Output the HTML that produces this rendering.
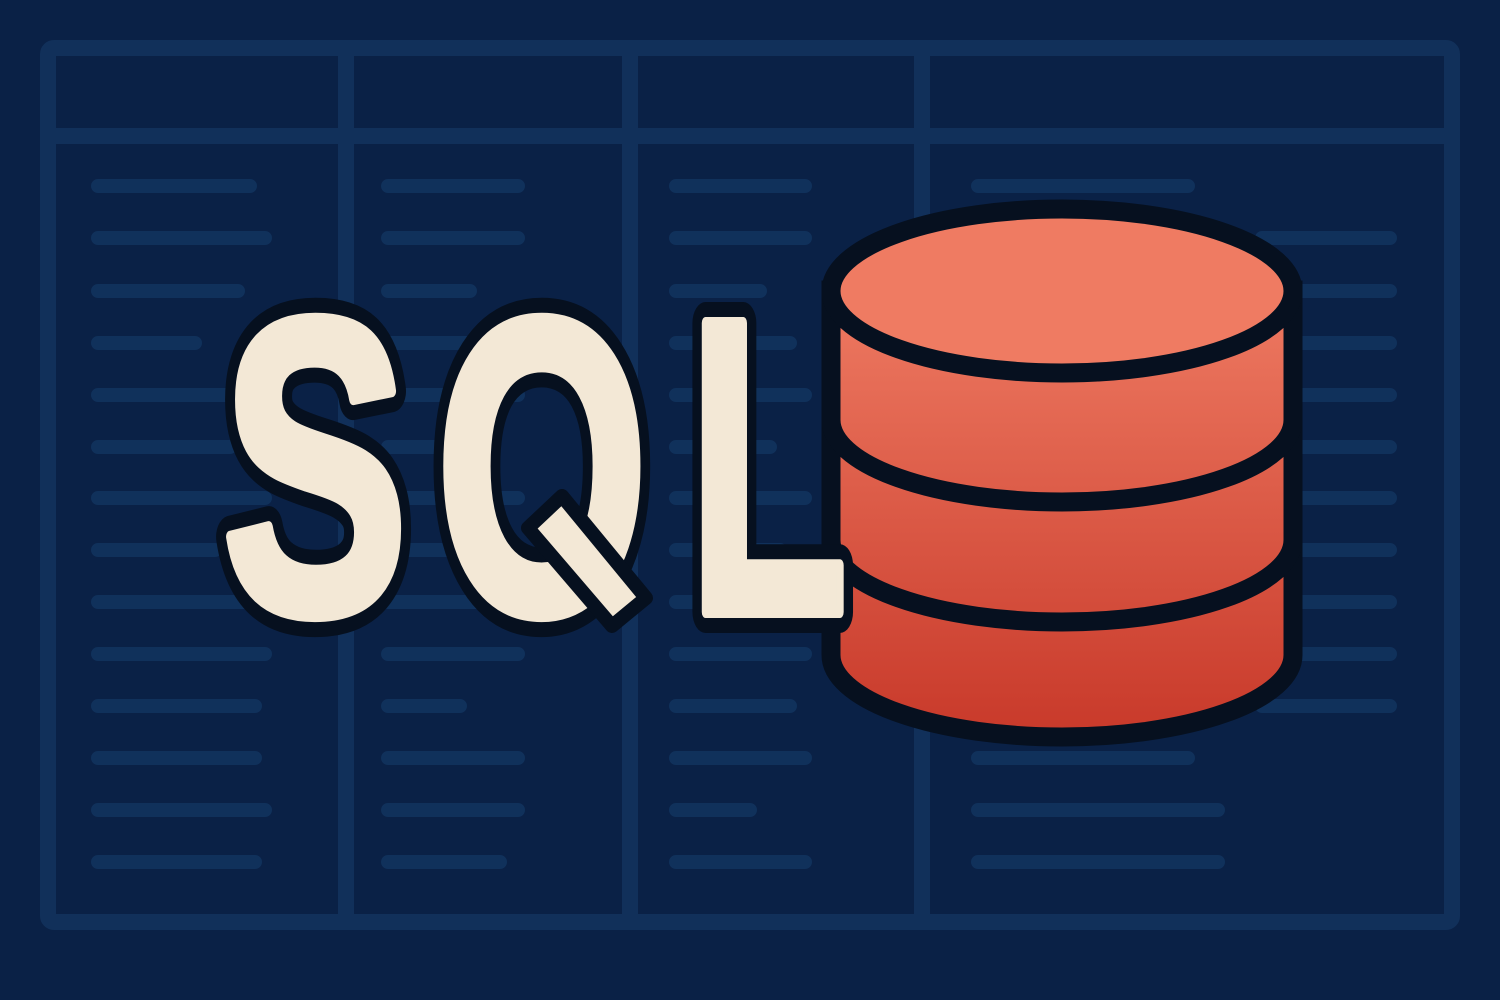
<!DOCTYPE html>
<html><head><style>html,body{margin:0;padding:0;background:#0a2146;}svg{display:block}</style></head>
<body>
<svg width="1500" height="1000" viewBox="0 0 1500 1000" xmlns="http://www.w3.org/2000/svg">
<defs>
<linearGradient id="cg" x1="0" y1="0" x2="0" y2="1">
<stop offset="0" stop-color="#ee7a62"/><stop offset="1" stop-color="#c8392a"/>
</linearGradient>
</defs>
<rect width="1500" height="1000" fill="#0a2146"/>
<g fill="none" stroke="#11305a" stroke-width="16">
<rect x="48" y="48" width="1404" height="874" rx="6"/>
<line x1="48" y1="136" x2="1452" y2="136"/>
<line x1="346" y1="48" x2="346" y2="922"/>
<line x1="630" y1="48" x2="630" y2="922"/>
<line x1="922" y1="48" x2="922" y2="922"/>
</g>
<g stroke="#10315b" stroke-width="14" stroke-linecap="round">
<path d="M98 186H250M98 238H265M98 291H238M98 343H195M98 395H250M98 447H230M98 498H265M98 550H215M98 602H250M98 654H265M98 706H255M98 758H255M98 810H265M98 862H255"/>
<path d="M388 186H518M388 238H518M388 291H470M388 343H500M388 395H518M388 447H480M388 498H518M388 550H500M388 602H518M388 654H518M388 706H460M388 758H518M388 810H518M388 862H500"/>
<path d="M676 186H805M676 238H805M676 291H760M676 343H790M676 395H805M676 447H770M676 498H805M676 550H780M676 602H805M676 654H805M676 706H790M676 758H805M676 810H750M676 862H805"/>
<path d="M978 186H1188M978 758H1188M978 810H1218M978 862H1218M1262 238H1390M1262 291H1390M1262 343H1390M1262 395H1390M1262 447H1390M1262 498H1390M1262 550H1390M1262 602H1390M1262 654H1390M1262 706H1390"/>
</g>
<!-- cylinder -->
<g stroke="#06101f" stroke-width="19">
<path d="M831 290 V655 A231 82 0 0 0 1293 655 V290 Z" fill="url(#cg)"/>
<path d="M831 420 A231 82 0 0 0 1293 420" fill="none"/>
<path d="M831 540 A231 82 0 0 0 1293 540" fill="none"/>
<ellipse cx="1062" cy="291" rx="231" ry="82" fill="#ef7b62"/>
</g>
<!-- SQL -->
<g font-family="Liberation Sans, sans-serif" font-weight="bold" font-size="420" stroke-linejoin="round">
<g fill="#06101f" stroke="#06101f" stroke-width="42">
<text x="222" y="612" textLength="186" lengthAdjust="spacingAndGlyphs">S</text>
<text x="436" y="612" textLength="212" lengthAdjust="spacingAndGlyphs">O</text>
<text x="688" y="612" textLength="160" lengthAdjust="spacingAndGlyphs">L</text>
</g>
<g fill="#f3e8d6" stroke="#f3e8d6" stroke-width="12">
<text x="222" y="612" textLength="186" lengthAdjust="spacingAndGlyphs">S</text>
<text x="436" y="612" textLength="212" lengthAdjust="spacingAndGlyphs">O</text>
<text x="688" y="612" textLength="160" lengthAdjust="spacingAndGlyphs">L</text>
</g>
</g>
<polygon points="528,528 562,496 646,598 612,626" fill="#f3e8d6" stroke="#06101f" stroke-width="14" stroke-linejoin="round"/>
</svg>
</body></html>
